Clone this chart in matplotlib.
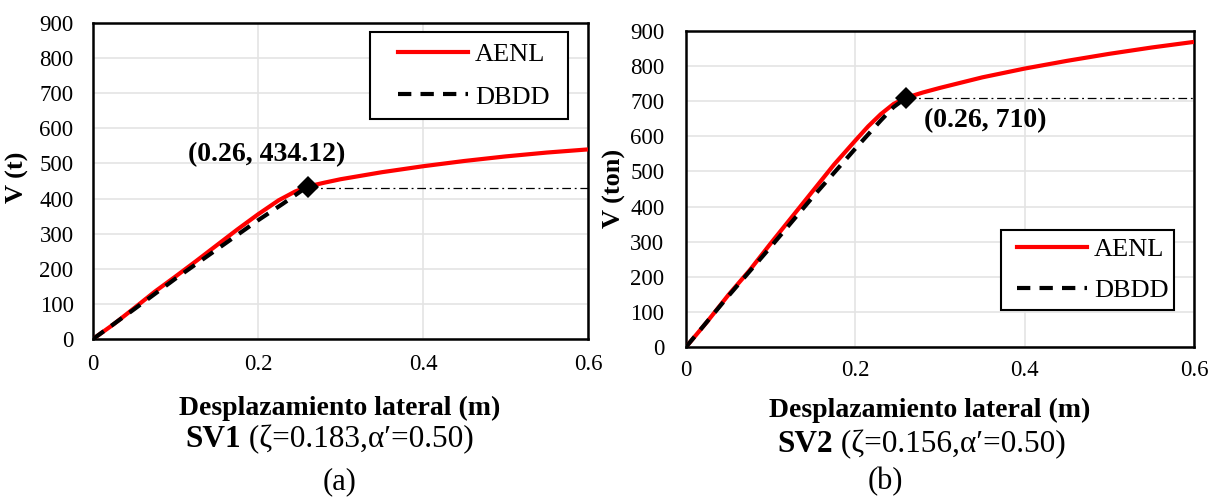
import matplotlib
matplotlib.use("Agg")
import matplotlib.pyplot as plt
from matplotlib.lines import Line2D
from matplotlib.legend_handler import HandlerLine2D

plt.rcParams['font.family'] = ['Liberation Serif', 'DejaVu Serif']

# ---- SV1 capacity curves ----
sv1_disp_aenl = [0, 0.025, 0.05, 0.075, 0.1, 0.125, 0.15, 0.175, 0.2, 0.225,
                 0.245, 0.26, 0.28, 0.3, 0.35, 0.4, 0.45, 0.5, 0.55, 0.6]
sv1_v_aenl = [0, 42, 88, 135, 178, 222, 267, 312, 355, 395,
              420, 434.12, 445, 455, 475, 492, 507, 520, 531, 540]
sv1_disp_dbdd = [0, 0.05, 0.1, 0.15, 0.2, 0.23, 0.26]
sv1_v_dbdd = [0, 85, 172, 255, 338, 385, 434.12]
sv1_yield_d, sv1_yield_v = 0.26, 434.12
sv1_plateau = 430

# ---- SV2 capacity curves ----
sv2_disp_aenl = [0, 0.025, 0.05, 0.075, 0.1, 0.125, 0.15, 0.175, 0.2, 0.215,
                 0.23, 0.245, 0.26, 0.28, 0.3, 0.35, 0.4, 0.45, 0.5, 0.55, 0.6]
sv2_v_aenl = [0, 72, 148, 218, 295, 370, 445, 520, 588, 628,
              663, 692, 710, 725, 738, 768, 793, 815, 835, 853, 869]
sv2_disp_dbdd = [0, 0.05, 0.1, 0.15, 0.2, 0.23, 0.245, 0.26]
sv2_v_dbdd = [0, 145, 285, 428, 565, 645, 683, 710]
sv2_yield_d, sv2_yield_v = 0.26, 710
sv2_plateau = 709

x_ticks = [0, 0.2, 0.4, 0.6]
x_tick_labels = ['0', '0.2', '0.4', '0.6']
y_ticks = [0, 100, 200, 300, 400, 500, 600, 700, 800, 900]
series_labels = ['AENL', 'DBDD']

W, H = 1211, 499
fig = plt.figure(figsize=(W / 100, H / 100), dpi=100)


def px_axes(x0, y0, x1, y1):
    return fig.add_axes([x0 / W, 1 - y1 / H, (x1 - x0) / W, (y1 - y0) / H])


def draw_panel(ax, dA, vA, dB, vB, yd, yv, plateau, xpad, ypad):
    ax.plot(dA, vA, color='#ff0000', lw=3.0, zorder=3, solid_capstyle='butt')
    ax.plot(dB, vB, color='black', lw=3.0, dashes=(3.2, 2.2), zorder=4)
    ax.plot([yd, 0.6], [plateau, plateau], color='black', lw=0.9,
            dashes=(7, 3, 1.5, 3), zorder=2)
    ax.plot([yd], [yv], marker='D', ms=11.5, color='black', mew=0, zorder=6)
    ax.set_xlim(0, 0.6)
    ax.set_ylim(0, 900)
    ax.set_xticks(x_ticks)
    ax.set_xticklabels(x_tick_labels)
    ax.set_yticks(y_ticks)
    ax.tick_params(axis='both', length=0, labelsize=16.5)
    ax.tick_params(axis='x', pad=xpad)
    ax.tick_params(axis='y', pad=ypad)
    ax.grid(True, color='#e4e4e4', lw=1.2)
    ax.set_axisbelow(True)
    for s in ax.spines.values():
        s.set_linewidth(1.8)
        s.set_color('black')


def add_legend(ax, box_px, bp, ls, hl, xpad):
    x0, y0, x1, y1 = box_px
    handles = [Line2D([], [], color='#ff0000', lw=3.0),
               Line2D([], [], color='black', lw=3.0, dashes=(3.2, 2.2))]
    leg = ax.legend(handles, series_labels, loc='upper left',
                    bbox_to_anchor=(x0 / W, 1 - y1 / H, (x1 - x0) / W, (y1 - y0) / H),
                    bbox_transform=fig.transFigure, mode='expand',
                    borderaxespad=0, borderpad=bp, labelspacing=ls,
                    handlelength=hl, handletextpad=0.27, fontsize=19,
                    fancybox=False, edgecolor='black', framealpha=1,
                    handler_map={Line2D: HandlerLine2D(xpad=xpad)})
    leg.get_frame().set_linewidth(1.5)


ax1 = px_axes(93, 23, 588, 339)
draw_panel(ax1, sv1_disp_aenl, sv1_v_aenl, sv1_disp_dbdd, sv1_v_dbdd,
           sv1_yield_d, sv1_yield_v, sv1_plateau, xpad=11, ypad=14)
add_legend(ax1, (370, 32, 568, 132), bp=0.40, ls=0.72, hl=3.31, xpad=0.66)
ax1.text(0.211, 525, f'({sv1_yield_d:.2f}, {sv1_yield_v:.2f})', fontsize=20,
         fontweight='bold', ha='center', va='center')

ax2 = px_axes(686, 31, 1194, 347)
draw_panel(ax2, sv2_disp_aenl, sv2_v_aenl, sv2_disp_dbdd, sv2_v_dbdd,
           sv2_yield_d, sv2_yield_v, sv2_plateau, xpad=9, ypad=15.5)
add_legend(ax2, (1001, 230, 1174, 323), bp=0.30, ls=0.64, hl=2.95, xpad=0.30)
ax2.text(0.353, 645, f'({sv2_yield_d:.2f}, {sv2_yield_v:.0f})', fontsize=20,
         fontweight='bold', ha='center', va='center')

# axis titles
fig.text(17 / W, 1 - 177 / H, 'V (t)', rotation=90, fontsize=19,
         fontweight='bold', ha='center', va='center')
fig.text(614 / W, 1 - 188 / H, 'V (ton)', rotation=90, fontsize=19,
         fontweight='bold', ha='center', va='center')
fig.text(340 / W, 1 - 415 / H, 'Desplazamiento lateral (m)', fontsize=20,
         fontweight='bold', ha='center', va='baseline')
fig.text(930 / W, 1 - 417 / H, 'Desplazamiento lateral (m)', fontsize=20,
         fontweight='bold', ha='center', va='baseline')


def caption(x_px, y_px, bold, rest):
    t1 = fig.text(x_px / W, 1 - y_px / H, bold, fontsize=22.5,
                  fontweight='bold', ha='left', va='baseline')
    fig.canvas.draw()
    bb = t1.get_window_extent()
    fig.text(bb.x1 / W, 1 - y_px / H, rest, fontsize=22.5,
             ha='left', va='baseline')


caption(185, 447, 'SV1', ' (ζ=0.183,α′=0.50)')
caption(777, 452, 'SV2', ' (ζ=0.156,α′=0.50)')

fig.text(340 / W, 1 - 489 / H, '(a)', fontsize=22, ha='center', va='baseline')
fig.text(885 / W, 1 - 489 / H, '(b)', fontsize=22, ha='center', va='baseline')

fig.savefig('out.png', dpi=100)
